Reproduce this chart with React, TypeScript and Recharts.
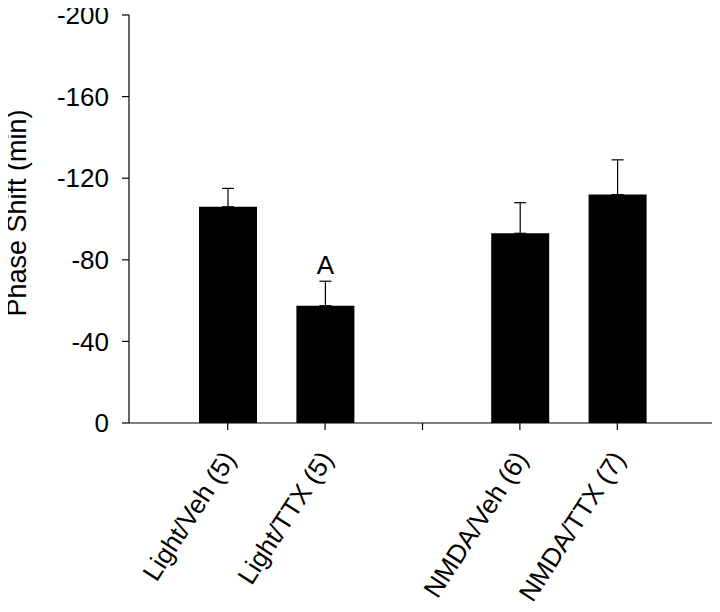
import React from "react";
import { BarChart, Bar, XAxis, YAxis, ErrorBar, LabelList } from "recharts";

const categories = ["Light/Veh (5)", "Light/TTX (5)", "", "NMDA/Veh (6)", "NMDA/TTX (7)"];
const means: (number | null)[] = [-106, -57.5, null, -93, -112];
const sems: (number | null)[] = [9, 12, null, 15, 17];
const notes = ["", "A", "", "", ""];
const yTicks = [-200, -160, -120, -80, -40, 0];

const data = categories.map((c, i) => ({
  name: c,
  value: means[i],
  err: sems[i] == null ? null : [sems[i], 0],
  note: notes[i],
}));

const FONT = "'Liberation Sans', Arial, sans-serif";
const FS = 26;

const XTick = (props: any) => {
  const { x, y, payload } = props;
  if (!payload.value) return null;
  const ax = x + 9;
  const ay = y + 27;
  return (
    <text
      x={ax}
      y={ay}
      transform={`rotate(-57, ${ax}, ${ay})`}
      textAnchor="end"
      fontFamily={FONT}
      fontSize={FS}
      fill="#000"
    >
      {payload.value}
    </text>
  );
};

const NoteLabel = (props: any) => {
  const { x, y, width, height, value } = props;
  if (!value) return null;
  const top = Math.min(y, y + height);
  return (
    <text
      x={x + width / 2}
      y={top - 32}
      textAnchor="middle"
      fontFamily={FONT}
      fontSize={FS}
      fill="#000"
    >
      {value}
    </text>
  );
};

const YLabel = (props: any) => {
  const vb = props.viewBox;
  const cx = 26;
  const cy = vb.y + vb.height / 2 - 6;
  return (
    <text
      x={cx}
      y={cy}
      transform={`rotate(-90, ${cx}, ${cy})`}
      textAnchor="middle"
      fontFamily={FONT}
      fontSize={27}
      fill="#000"
    >
      Phase Shift (min)
    </text>
  );
};

export default function App() {
  return (
    <div style={{ margin: -8, width: 720, height: 612, background: "#fff" }}>
      <BarChart
        width={720}
        height={612}
        data={data}
        margin={{ top: 15, right: 4, left: 0, bottom: 0 }}
      >
        <XAxis
          dataKey="name"
          type="category"
          padding={{ left: 50, right: 50 }}
          height={189}
          interval={0}
          tickSize={7}
          tick={<XTick />}
          axisLine={{ stroke: "#000", strokeWidth: 1.2 }}
          tickLine={{ stroke: "#000", strokeWidth: 1.2 }}
        />
        <XAxis
          xAxisId="top"
          orientation="top"
          dataKey="name"
          height={0}
          tick={false}
          tickLine={false}
          axisLine={{ stroke: "#000", strokeWidth: 1.2 }}
        />
        <YAxis
          type="number"
          domain={[-200, 0]}
          reversed
          ticks={yTicks}
          width={129}
          tickSize={7}
          tickMargin={13}
          interval={0}
          allowDataOverflow
          tick={{ fontFamily: FONT, fontSize: FS, fill: "#000" }}
          axisLine={{ stroke: "#000", strokeWidth: 1.2 }}
          tickLine={{ stroke: "#000", strokeWidth: 1.2 }}
          label={<YLabel />}
        />
        <YAxis
          yAxisId="right"
          orientation="right"
          width={0}
          tick={false}
          tickLine={false}
          axisLine={{ stroke: "#000", strokeWidth: 1.2 }}
        />
        <Bar dataKey="value" fill="#000" barSize={58} isAnimationActive={false}>
          <ErrorBar dataKey="err" width={6} stroke="#000" strokeWidth={1.2} direction="y" />
          <LabelList dataKey="note" content={<NoteLabel />} />
        </Bar>
      </BarChart>
    </div>
  );
}
